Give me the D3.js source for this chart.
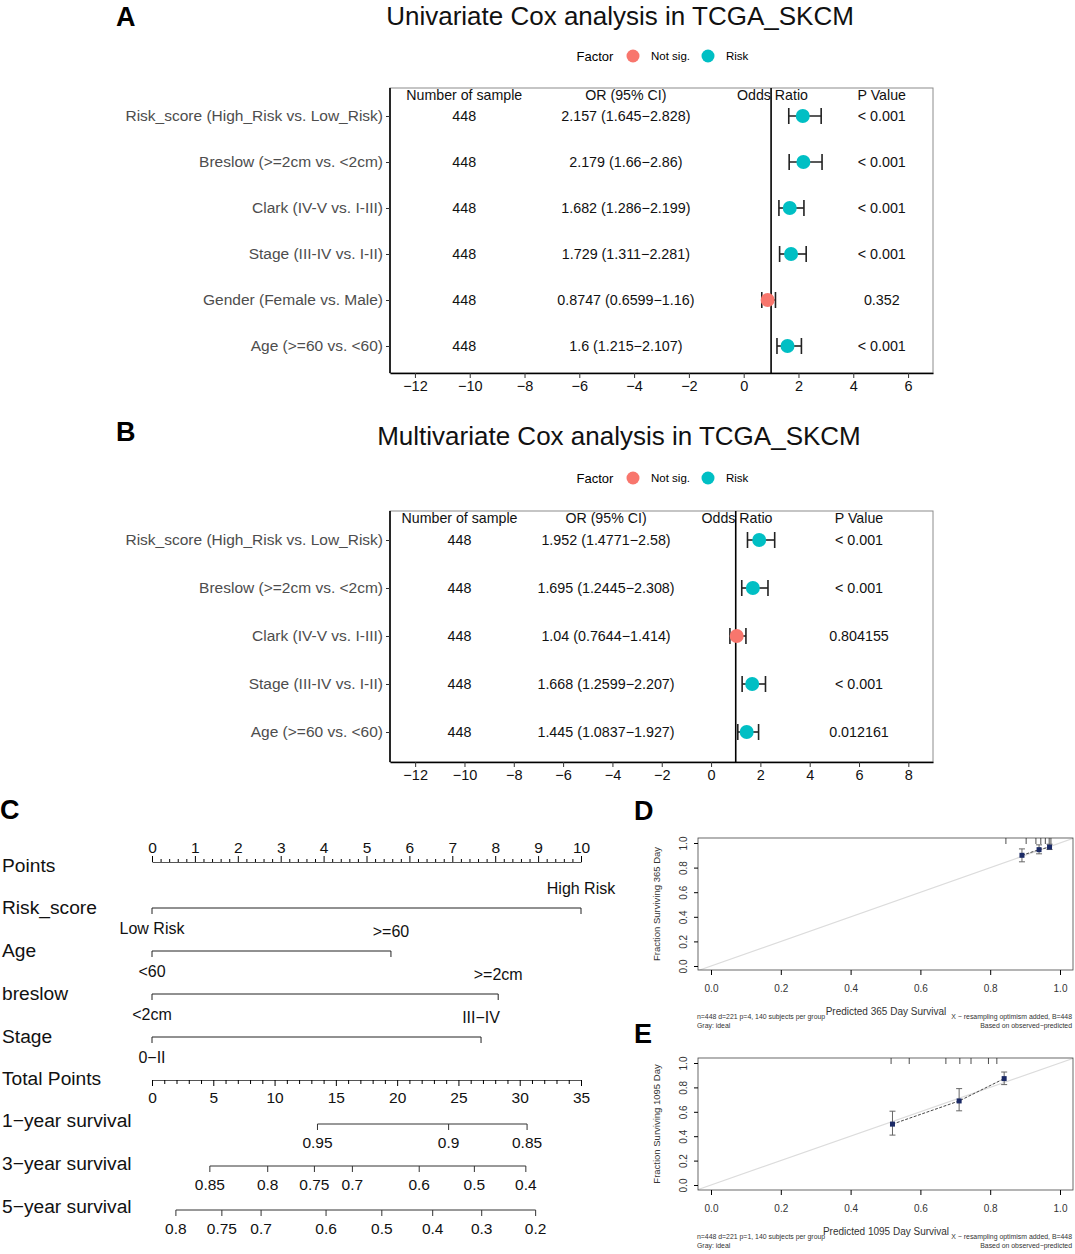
<!DOCTYPE html>
<html><head><meta charset="utf-8">
<script src="https://cdn.jsdelivr.net/npm/d3@7"></script>
<style>body{margin:0;background:#fff}svg{display:block}text{font-family:"Liberation Sans",Arial,Helvetica,sans-serif}</style>
</head><body><svg id="c" width="1075" height="1254"></svg>
<script>
// ---------------- DATA ----------------
// Panel A: univariate Cox
const uniLabels = ["Risk_score (High_Risk vs. Low_Risk)","Breslow (>=2cm vs. <2cm)","Clark (IV-V vs. I-III)","Stage (III-IV vs. I-II)","Gender (Female vs. Male)","Age (>=60 vs. <60)"];
const uniN = [448,448,448,448,448,448];
const uniOR = [2.157,2.179,1.682,1.729,0.8747,1.6];
const uniLow = [1.645,1.66,1.286,1.311,0.6599,1.215];
const uniHigh = [2.828,2.86,2.199,2.281,1.16,2.107];
const uniP = ["< 0.001","< 0.001","< 0.001","< 0.001","0.352","< 0.001"];
const uniFactor = ["Risk","Risk","Risk","Risk","Not sig.","Risk"];
const uniTicks = [-12,-10,-8,-6,-4,-2,0,2,4,6];
// Panel B: multivariate Cox
const multiLabels = ["Risk_score (High_Risk vs. Low_Risk)","Breslow (>=2cm vs. <2cm)","Clark (IV-V vs. I-III)","Stage (III-IV vs. I-II)","Age (>=60 vs. <60)"];
const multiN = [448,448,448,448,448];
const multiOR = [1.952,1.695,1.04,1.668,1.445];
const multiLow = [1.4771,1.2445,0.7644,1.2599,1.0837];
const multiHigh = [2.58,2.308,1.414,2.207,1.927];
const multiP = ["< 0.001","< 0.001","0.804155","< 0.001","0.012161"];
const multiFactor = ["Risk","Risk","Not sig.","Risk","Risk"];
const multiTicks = [-12,-10,-8,-6,-4,-2,0,2,4,6,8];
const factorLevels = ["Not sig.","Risk"];
// Panel C: nomogram
const nomoVars = ["Risk_score","Age","breslow","Stage"];
const nomoLowLab = ["Low Risk","<60","<2cm","0\u2212II"];
const nomoHighLab = ["High Risk",">=60",">=2cm","III\u2212IV"];
const nomoHighPts = [10,5.57,8.07,7.67];
const pointsTicks = [0,1,2,3,4,5,6,7,8,9,10];
const totalTicks = [0,5,10,15,20,25,30,35];
const surv1Lab = [0.95,0.9,0.85];
const surv1Pts = [13.5,24.2,30.6];
const surv3Lab = [0.85,0.8,0.75,0.7,0.6,0.5,0.4];
const surv3Pts = [4.72,9.44,13.25,16.35,21.8,26.3,30.5];
const surv5Lab = [0.8,0.75,0.7,0.6,0.5,0.4,0.3,0.2];
const surv5Pts = [1.95,5.7,8.9,14.2,18.75,22.9,26.9,31.3];
// Panel D: calibration 365 day
const calDPred = [0.891,0.94,0.97];
const calDObs = [0.9,0.946,0.967];
const calDLo = [0.847,0.912,0.947];
const calDHi = [0.952,0.985,0.99];
const calDRug = [0.845,0.903,0.931,0.945,0.958,0.969,0.974];
// Panel E: calibration 1095 day
const calEPred = [0.52,0.711,0.84];
const calEObs = [0.499,0.689,0.872];
const calELo = [0.409,0.608,0.823];
const calEHi = [0.605,0.79,0.926];
const calERug = [0.516,0.568,0.673,0.713,0.745,0.795,0.819];
const calTicks = [0,0.2,0.4,0.6,0.8,1.0];

// ---------------- DRAW ----------------
const svg = d3.select("#c");
svg.append("rect").attr("width",1075).attr("height",1254).attr("fill","#fff");
const RED = "#F8766D", TEAL = "#00BFC4";
const colorScale = d3.scaleOrdinal().domain(factorLevels).range([RED,TEAL]);

function panelLabel(t,x,y){
  svg.append("text").attr("x",x).attr("y",y).attr("font-size",27).attr("font-weight","bold").text(t);
}

function forest(cfg){
  const g = svg.append("g");
  const x = d3.scaleLinear().domain(cfg.xdom).range([cfg.left,cfg.right]);
  const y = d3.scalePoint().domain(cfg.labels).range([cfg.rowTop,cfg.rowBottom]);
  // title
  g.append("text").attr("x",cfg.titleX).attr("y",cfg.titleY).attr("text-anchor","middle").attr("font-size",26).attr("fill","#111").text(cfg.title);
  // legend
  const lg = g.append("g");
  lg.append("text").attr("x",cfg.legX).attr("y",cfg.legY+4.5).attr("font-size",13).attr("text-anchor","middle").text("Factor");
  factorLevels.forEach((f,i)=>{
    const cx = cfg.legX+38+i*75;
    lg.append("circle").attr("cx",cx).attr("cy",cfg.legY).attr("r",6.5).attr("fill",colorScale(f));
    lg.append("text").attr("x",cx+18).attr("y",cfg.legY+4).attr("font-size",11.5).text(f);
  });
  // box
  g.append("rect").attr("x",cfg.left).attr("y",cfg.top).attr("width",cfg.right-cfg.left).attr("height",cfg.bottom-cfg.top)
    .attr("fill","none").attr("stroke","#8c8c8c").attr("stroke-width",1);
  // x axis
  const ax = g.append("g").attr("transform",`translate(0,${cfg.bottom})`)
    .call(d3.axisBottom(x).tickValues(cfg.ticks).tickSize(5).tickPadding(3).tickSizeOuter(0));
  ax.select(".domain").attr("stroke","#000").attr("stroke-width",1.6);
  ax.selectAll(".tick line").attr("stroke","#333").attr("stroke-width",1);
  ax.selectAll(".tick text").attr("font-size",14.5).attr("fill","#111").attr("font-family","Liberation Sans, Arial, sans-serif");
  // y axis
  const ay = g.append("g").attr("transform",`translate(${cfg.left},0)`)
    .call(d3.axisLeft(y).tickSize(4).tickPadding(3).tickSizeOuter(0));
  ay.select(".domain").attr("stroke","#000").attr("stroke-width",1.6).attr("d",`M0,${cfg.top}V${cfg.bottom}`);
  ay.selectAll(".tick line").attr("stroke","#333");
  ay.selectAll(".tick text").attr("font-size",15.5).attr("fill","#4d4d4d").attr("font-family","Liberation Sans, Arial, sans-serif");
  // reference line
  g.append("line").attr("x1",x(1)).attr("x2",x(1)).attr("y1",cfg.top).attr("y2",cfg.bottom).attr("stroke","#000").attr("stroke-width",1.6);
  // header
  const hy = cfg.headerY;
  const hdr = [["Number of sample",cfg.colN],["OR (95% CI)",cfg.colOR],["Odds Ratio",cfg.colOdds],["P Value",cfg.colP]];
  hdr.forEach(h=>g.append("text").attr("x",x(h[1])).attr("y",hy).attr("text-anchor","middle").attr("font-size",14.2).attr("fill","#111").text(h[0]));
  // rows
  cfg.labels.forEach((lab,i)=>{
    const yy = y(lab);
    g.append("text").attr("x",x(cfg.colN)).attr("y",yy+5).attr("text-anchor","middle").attr("font-size",14.3).attr("fill","#111").text(cfg.n[i]);
    g.append("text").attr("x",x(cfg.colOR)).attr("y",yy+5).attr("text-anchor","middle").attr("font-size",14.3).attr("fill","#111")
      .text(`${cfg.or[i]} (${cfg.lo[i]}\u2212${cfg.hi[i]})`);
    g.append("text").attr("x",x(cfg.colP)).attr("y",yy+5).attr("text-anchor","middle").attr("font-size",14.3).attr("fill","#111").text(cfg.p[i]);
    // error bar
    g.append("line").attr("x1",x(cfg.lo[i])).attr("x2",x(cfg.hi[i])).attr("y1",yy).attr("y2",yy).attr("stroke","#222").attr("stroke-width",1.6);
    [cfg.lo[i],cfg.hi[i]].forEach(v=>g.append("line").attr("x1",x(v)).attr("x2",x(v)).attr("y1",yy-8).attr("y2",yy+8).attr("stroke","#222").attr("stroke-width",1.6));
    g.append("circle").attr("cx",x(cfg.or[i])).attr("cy",yy).attr("r",7).attr("fill",colorScale(cfg.factor[i]));
  });
}

panelLabel("A",116,26);
forest({labels:uniLabels,n:uniN,or:uniOR,lo:uniLow,hi:uniHigh,p:uniP,factor:uniFactor,ticks:uniTicks,
  xdom:[-12.91,6.91],left:390,right:933,top:88,bottom:373,rowTop:116,rowBottom:346,headerY:100,
  colN:-10.2,colOR:-4.3,colOdds:1.05,colP:5.04,
  title:"Univariate Cox analysis in TCGA_SKCM",titleX:620,titleY:25,legX:595,legY:56});

panelLabel("B",116,441);
forest({labels:multiLabels,n:multiN,or:multiOR,lo:multiLow,hi:multiHigh,p:multiP,factor:multiFactor,ticks:multiTicks,
  xdom:[-13.02,9.0],left:390,right:933,top:511,bottom:762,rowTop:540,rowBottom:732,headerY:523,
  colN:-10.2,colOR:-4.26,colOdds:1.05,colP:6.0,
  title:"Multivariate Cox analysis in TCGA_SKCM",titleX:619,titleY:445,legX:595,legY:478});

// ---------------- NOMOGRAM ----------------
panelLabel("C",0,819);
(function(){
  const g = svg.append("g");
  const pts = d3.scaleLinear().domain([0,10]).range([152,581]);
  const tot = d3.scaleLinear().domain([0,35]).range([152,581]);
  const rowLab = (t,y)=>g.append("text").attr("x",2).attr("y",y+6).attr("font-size",19.2).attr("fill","#111").text(t);
  // Points axis
  rowLab("Points",866);
  const pAx = g.append("g").attr("transform","translate(0,862)")
    .call(d3.axisTop(pts).tickValues(pointsTicks).tickSize(6).tickPadding(3).tickSizeOuter(0).tickFormat(d3.format("d")));
  pAx.select(".domain").attr("stroke","#555");
  pAx.selectAll(".tick text").attr("font-size",15.5).attr("fill","#111").attr("font-family","Liberation Sans, Arial, sans-serif");
  g.append("g").attr("transform","translate(0,862)")
    .call(d3.axisTop(pts).tickValues(d3.range(0,51).map(d=>d/5).filter(d=>Math.abs(d-Math.round(d))>1e-9)).tickSize(3).tickFormat("").tickSizeOuter(0))
    .call(s=>s.select(".domain").remove());
  // categorical variables
  const varY = [908,951,994,1037];
  nomoVars.forEach((v,i)=>{
    const yy = varY[i];
    rowLab(v,yy);
    g.append("line").attr("x1",pts(0)).attr("x2",pts(nomoHighPts[i])).attr("y1",yy).attr("y2",yy).attr("stroke","#222").attr("stroke-width",1);
    [0,nomoHighPts[i]].forEach(p=>g.append("line").attr("x1",pts(p)).attr("x2",pts(p)).attr("y1",yy).attr("y2",yy+6).attr("stroke","#222"));
    g.append("text").attr("x",pts(nomoHighPts[i])).attr("y",yy-14).attr("text-anchor","middle").attr("font-size",16).attr("fill","#111").text(nomoHighLab[i]);
    g.append("text").attr("x",pts(0)).attr("y",yy+26).attr("text-anchor","middle").attr("font-size",16).attr("fill","#111").text(nomoLowLab[i]);
  });
  // Total points
  rowLab("Total Points",1079);
  const tAx = g.append("g").attr("transform","translate(0,1080)")
    .call(d3.axisBottom(tot).tickValues(totalTicks).tickSize(6).tickPadding(6).tickSizeOuter(0));
  tAx.select(".domain").attr("stroke","#555");
  tAx.selectAll(".tick text").attr("font-size",15.5).attr("fill","#111").attr("font-family","Liberation Sans, Arial, sans-serif");
  g.append("g").attr("transform","translate(0,1080)")
    .call(d3.axisBottom(tot).tickValues(d3.range(0,36).filter(d=>d%5!==0)).tickSize(4).tickFormat("").tickSizeOuter(0))
    .call(s=>s.select(".domain").remove());
  // survival axes
  const surv = [["1\u2212year survival",surv1Lab,surv1Pts,1121,1124],["3\u2212year survival",surv3Lab,surv3Pts,1164,1166],["5\u2212year survival",surv5Lab,surv5Pts,1207,1210]];
  surv.forEach(s=>{
    rowLab(s[0],s[3]);
    const yy = s[4];
    const ext = d3.extent(s[2]);
    g.append("line").attr("x1",tot(ext[0])).attr("x2",tot(ext[1])).attr("y1",yy).attr("y2",yy).attr("stroke","#333");
    s[2].forEach((p,j)=>{
      g.append("line").attr("x1",tot(p)).attr("x2",tot(p)).attr("y1",yy).attr("y2",yy+6).attr("stroke","#333");
      g.append("text").attr("x",tot(p)).attr("y",yy+24).attr("text-anchor","middle").attr("font-size",15.5).attr("fill","#111").text(s[1][j]);
    });
  });
})();

// ---------------- CALIBRATION ----------------
function calib(cfg){
  const g = svg.append("g");
  const x = d3.scaleLinear().domain([0,1]).range([711,1060]);
  const y = d3.scaleLinear().domain([0,1]).range([cfg.y0,cfg.y1]);
  const L=698,R=1073,T=cfg.top,B=cfg.bottom;
  const clipId = "clip"+cfg.id;
  g.append("clipPath").attr("id",clipId).append("rect").attr("x",L).attr("y",T).attr("width",R-L).attr("height",B-T);
  // ideal line
  g.append("line").attr("clip-path",`url(#${clipId})`).attr("x1",x(-0.1)).attr("y1",y(-0.1)).attr("x2",x(1.1)).attr("y2",y(1.1))
    .attr("stroke","#dcdcdc").attr("stroke-width",1.2);
  g.append("rect").attr("x",L).attr("y",T).attr("width",R-L).attr("height",B-T).attr("fill","none").attr("stroke","#444").attr("stroke-width",0.8);
  // axes
  const ax = g.append("g").attr("transform",`translate(0,${B})`).call(d3.axisBottom(x).tickValues(calTicks).tickSize(5).tickPadding(10).tickFormat(d3.format(".1f")));
  ax.select(".domain").remove();
  ax.selectAll(".tick text").attr("font-size",10).attr("fill","#333").attr("font-family","Liberation Sans, Arial, sans-serif");
  const ay = g.append("g").attr("transform",`translate(${L},0)`).call(d3.axisLeft(y).tickValues(calTicks).tickSize(4).tickPadding(5).tickFormat(d3.format(".1f")));
  ay.select(".domain").remove();
  ay.selectAll(".tick text").attr("font-size",10).attr("fill","#333").attr("font-family","Liberation Sans, Arial, sans-serif")
    .attr("text-anchor","middle").attr("x",0).attr("y",0).attr("dy","0.35em").attr("transform","translate(-15,0) rotate(-90)");
  // rug
  cfg.rug.forEach(r=>g.append("line").attr("x1",x(r)).attr("x2",x(r)).attr("y1",T).attr("y2",T+6).attr("stroke","#222").attr("stroke-width",0.8));
  // connecting line
  const line = d3.line().x(d=>x(d[0])).y(d=>y(d[1]));
  g.append("path").attr("d",line(cfg.pred.map((p,i)=>[p,cfg.obs[i]]))).attr("fill","none").attr("stroke","#333").attr("stroke-width",0.9).attr("stroke-dasharray","3,1.5");
  cfg.pred.forEach((p,i)=>{
    g.append("line").attr("x1",x(p)).attr("x2",x(p)).attr("y1",y(cfg.lo[i])).attr("y2",y(cfg.hi[i])).attr("stroke","#666").attr("stroke-width",1);
    [cfg.lo[i],cfg.hi[i]].forEach(v=>g.append("line").attr("x1",x(p)-3).attr("x2",x(p)+3).attr("y1",y(v)).attr("y2",y(v)).attr("stroke","#666").attr("stroke-width",1));
    g.append("rect").attr("x",x(p)-2.5).attr("y",y(cfg.obs[i])-2.5).attr("width",5).attr("height",5).attr("fill","#1b2a66");
  });
  // labels
  g.append("text").attr("transform",`translate(660,${(T+B)/2}) rotate(-90)`).attr("text-anchor","middle").attr("font-size",9.5).attr("fill","#333").text(cfg.ylab);
  g.append("text").attr("x",886).attr("y",B+45).attr("text-anchor","middle").attr("font-size",10).attr("fill","#333").text(cfg.xlab);
  g.append("text").attr("x",697).attr("y",B+49).attr("font-size",6.9).attr("fill","#333").text(cfg.sub1);
  g.append("text").attr("x",697).attr("y",B+58).attr("font-size",6.9).attr("fill","#333").text("Gray: ideal");
  g.append("text").attr("x",1072).attr("y",B+49).attr("text-anchor","end").attr("font-size",6.9).attr("fill","#333").text("X \u2212 resampling optimism added, B=448");
  g.append("text").attr("x",1072).attr("y",B+58).attr("text-anchor","end").attr("font-size",6.9).attr("fill","#333").text("Based on observed\u2212predicted");
}
panelLabel("D",634,820);
calib({id:"D",pred:calDPred,obs:calDObs,lo:calDLo,hi:calDHi,rug:calDRug,top:838,bottom:970,y0:966,y1:843,
  ylab:"Fraction Surviving 365 Day",xlab:"Predicted  365 Day Survival",sub1:"n=448 d=221 p=4, 140 subjects per group"});
panelLabel("E",634,1043);
calib({id:"E",pred:calEPred,obs:calEObs,lo:calELo,hi:calEHi,rug:calERug,top:1058,bottom:1190,y0:1185,y1:1063,
  ylab:"Fraction Surviving 1095 Day",xlab:"Predicted  1095 Day Survival",sub1:"n=448 d=221 p=1, 140 subjects per group"});
</script></body></html>
